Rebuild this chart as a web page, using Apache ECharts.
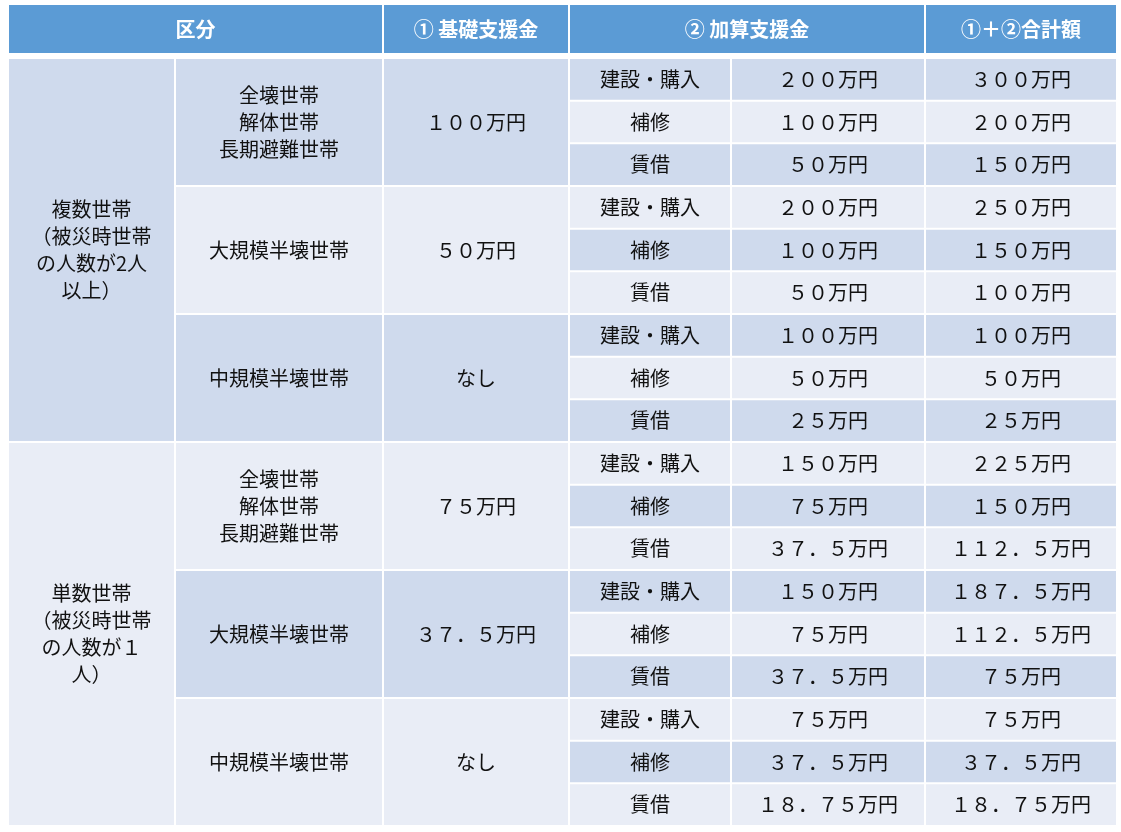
<!DOCTYPE html>
<html><head><meta charset="utf-8">
<script src="https://cdn.jsdelivr.net/npm/echarts@6/dist/echarts.min.js"></script>
<style>html,body{margin:0;padding:0;background:#fff}#c{width:1121px;height:832px}</style>
</head><body><div id="c"></div>
<script>
var headers = ['区分', '① 基礎支援金', '② 加算支援金', '①＋②合計額'];
var households = ['複数世帯\n（被災時世帯\nの人数が2人\n以上）', '単数世帯\n（被災時世帯\nの人数が１\n人）'];
var damageTypes = ['全壊世帯\n解体世帯\n長期避難世帯', '大規模半壊世帯', '中規模半壊世帯'];
var basicAmounts = ['１００万円', '５０万円', 'なし', '７５万円', '３７．５万円', 'なし'];
var methods = ['建設・購入', '補修', '賃借'];
var additionalAmounts = ['２００万円','１００万円','５０万円','２００万円','１００万円','５０万円','１００万円','５０万円','２５万円',
  '１５０万円','７５万円','３７．５万円','１５０万円','７５万円','３７．５万円','７５万円','３７．５万円','１８．７５万円'];
var totalAmounts = ['３００万円','２００万円','１５０万円','２５０万円','１５０万円','１００万円','１００万円','５０万円','２５万円',
  '２２５万円','１５０万円','１１２．５万円','１８７．５万円','１１２．５万円','７５万円','７５万円','３７．５万円','１８．７５万円'];

// layout (positions)
var colEdges = [8, 175, 383, 569, 731, 925, 1117];
var headTop = 4, headBottom = 54, bodyTop = 58, bodyBottom = 826, nRows = 18;
var rowH = (bodyBottom - bodyTop) / nRows;
var DARK = '#CFDAED', LIGHT = '#E9EDF6', HEAD = '#5B9BD5';

// cells: [c0, c1, r0, r1, text, fill, header]
var cells = [];
cells.push([0, 2, -1, 0, headers[0], HEAD, 1]);
cells.push([2, 3, -1, 0, headers[1], HEAD, 1]);
cells.push([3, 5, -1, 0, headers[2], HEAD, 1]);
cells.push([5, 6, -1, 0, headers[3], HEAD, 1]);
households.forEach(function (h, i) {
  cells.push([0, 1, i * 9, i * 9 + 9, h, i % 2 ? LIGHT : DARK, 0]);
  damageTypes.forEach(function (d, j) {
    var g = i * 3 + j;
    var f = g % 2 ? LIGHT : DARK;
    cells.push([1, 2, g * 3, g * 3 + 3, d, f, 0]);
    cells.push([2, 3, g * 3, g * 3 + 3, basicAmounts[g], f, 0]);
    methods.forEach(function (m, k) {
      var r = g * 3 + k;
      var rf = r % 2 ? LIGHT : DARK;
      cells.push([3, 4, r, r + 1, m, rf, 0]);
      cells.push([4, 5, r, r + 1, additionalAmounts[r], rf, 0]);
      cells.push([5, 6, r, r + 1, totalAmounts[r], rf, 0]);
    });
  });
});
function rowY(r) { return r < 0 ? headTop : (r === 0 ? (arguments[1] ? headBottom : bodyTop) : bodyTop + r * rowH); }

var chart = echarts.init(document.getElementById('c'));
chart.setOption({
  animation: false,
  grid: { left: 0, right: 0, top: 0, bottom: 0 },
  xAxis: { type: 'value', min: 0, max: 1121, show: false },
  yAxis: { type: 'value', min: 0, max: 832, inverse: true, show: false },
  series: [{
    type: 'custom',
    data: cells,
    renderItem: function (params, api) {
      var c = cells[params.dataIndex];
      var y0 = c[2] < 0 ? headTop : bodyTop + c[2] * rowH;
      var y1 = c[6] ? headBottom : bodyTop + c[3] * rowH;
      var p0 = api.coord([colEdges[c[0]], y0]);
      var p1 = api.coord([colEdges[c[1]], y1]);
      var x = p0[0] + 1, y = p0[1] + 1, w = p1[0] - p0[0] - 2, h = p1[1] - p0[1] - 2;
      return {
        type: 'group',
        children: [
          { type: 'rect', shape: { x: x, y: y, width: w, height: h }, style: { fill: c[5] } },
          { type: 'text', style: {
              text: c[4], x: x + w / 2, y: y + h / 2, align: 'center', verticalAlign: 'middle',
              fill: c[6] ? '#fff' : '#111', fontSize: 20, lineHeight: 27,
              fontWeight: c[6] ? 'bold' : 'normal',
              fontFamily: '"Noto Sans CJK JP", sans-serif'
          } }
        ]
      };
    }
  }]
});
</script></body></html>
